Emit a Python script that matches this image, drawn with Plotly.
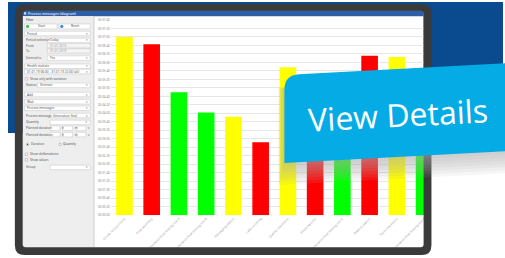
import plotly.graph_objects as go

W, H = 505, 258

# ---------------- chart data ----------------
categories = [
    "Goods receipt check",
    "Final assembly",
    "Generation final testing line A",
    "Generation final testing line B",
    "Packaging station",
    "Label printing",
    "Quality inspection",
    "Shipping prep",
    "Generation final testing line C",
    "Rework station",
    "Paint inspection",
    "Generation final testing line D",
]
durations_s = [420, 403, 290, 242, 232, 172, 349, 300, 250, 376, 373, 270]
status = ["warning", "critical", "ok", "ok", "warning", "critical",
          "warning", "critical", "ok", "critical", "warning", "ok"]
y_tickvals = [0, 20, 40, 60, 80, 100, 120, 140, 160, 180, 200, 220,
              240, 260, 280, 300, 320, 340, 360, 380, 400, 420, 440, 460]
y_ticktext = ["00:00:00", "00:00:20", "00:00:40", "00:01:00", "00:01:20", "00:01:40",
              "00:02:00", "00:02:20", "00:02:40", "00:03:00", "00:03:20", "00:03:40",
              "00:04:00", "00:04:20", "00:04:40", "00:05:00", "00:05:20", "00:05:40",
              "00:06:00", "00:06:20", "00:06:40", "00:07:00", "00:07:20", "00:07:40"]

status_colors = {"ok": "#00ff00", "warning": "#ffff00", "critical": "#ff0000"}

shapes = []
annotations = []
FONT = "Noto Sans"


def fx(x):
    return x / W


def fy(y):
    return 1 - y / H


def rect(x0, y0, x1, y1, fill, line=None, lw=0, layer="below"):
    shapes.append(dict(type="rect", xref="paper", yref="paper",
                       x0=fx(x0), x1=fx(x1), y0=fy(y1), y1=fy(y0),
                       fillcolor=fill, line=dict(color=line or fill, width=lw),
                       layer=layer))


def circle(cx, cy, r, fill, line=None, lw=0, layer="below"):
    shapes.append(dict(type="circle", xref="paper", yref="paper",
                       x0=fx(cx - r), x1=fx(cx + r), y0=fy(cy + r), y1=fy(cy - r),
                       fillcolor=fill, line=dict(color=line or fill, width=lw),
                       layer=layer))


def path(cmds, fill, layer="below", line=None, lw=0):
    out = []
    for c in cmds:
        if c[0] == "Z":
            out.append("Z")
        else:
            vals = c[1:]
            pts = []
            for i in range(0, len(vals), 2):
                pts.append(f"{fx(vals[i]):.5f},{fy(vals[i + 1]):.5f}")
            out.append(c[0] + " " + " ".join(pts))
    shapes.append(dict(type="path", xref="paper", yref="paper", path=" ".join(out),
                       fillcolor=fill, line=dict(color=line or fill, width=lw),
                       layer=layer))


def txt(x, y, s, size=3.2, color="#555555", anchor="left", angle=0, family=FONT):
    annotations.append(dict(xref="paper", yref="paper", x=fx(x), y=fy(y), text=s,
                            showarrow=False, xanchor=anchor, yanchor="middle",
                            textangle=angle, borderpad=0,
                            font=dict(size=size, color=color, family=family)))


# ---------------- background ----------------
rect(0, 0, W, 133, "#0a4a8e")

# screen
rect(15, 9, 424, 249, "#ffffff")
# title bar
rect(15, 9, 424, 14.5, "#2f5ea8")
rect(16.5, 10.3, 18.5, 12.8, "#dfe8f5")
txt(19.5, 11.7, "Process messages (diagram)", size=3.6, color="#ffffff")
# left panel
rect(15, 14.5, 87, 249, "#eeeeee")
rect(87, 14.5, 88.2, 249, "#cfcfcf")

BORDER = "#c4c4c4"


def box(x0, x1, y, fill="#ffffff", h=4.6):
    rect(x0, y - h / 2, x1, y + h / 2, fill, BORDER, 0.5)


def dropdown(x0, x1, y, value):
    box(x0, x1, y)
    txt(x0 + 1.5, y, value)
    txt(x1 - 1.2, y, "▾", size=3.2, color="#777777", anchor="right")


def checkbox(x, y, label):
    rect(x, y - 1.3, x + 2.6, y + 1.3, "#ffffff", "#9a9a9a", 0.5)
    txt(x + 3.5, y, label)


txt(17, 18, "Filter", color="#333333")
box(17, 50, 24.8, h=5)
circle(19.9, 24.8, 1.6, "#3cc83c")
txt(35, 24.8, "Start", anchor="center")
box(52, 84, 24.8, h=5)
circle(54.9, 24.8, 1.6, "#3c8ce6")
txt(69, 24.8, "Reset", anchor="center")

dropdown(17, 84, 32, "Period")
txt(17, 39, "Period selection")
dropdown(40, 84, 39, "Today")
txt(17, 44.3, "From")
box(40, 84, 44.3, fill="#f4f4f4")
txt(41.5, 44.3, "01.01.2019", color="#999999")
txt(17, 49.7, "To")
box(40, 84, 49.7, fill="#f4f4f4")
txt(41.5, 49.7, "31.01.2019", color="#999999")
txt(17, 57, "Interval to")
dropdown(40, 84, 57, "Yes")
dropdown(17, 84, 65.3, "Health statistic")
dropdown(17, 84, 70.7, "01.01.19 06:00 - 31.01.19 22:00 (all)")
checkbox(17.5, 78, "Show only with variation")
txt(17, 84.7, "Station")
dropdown(30, 84, 84.7, "Stresses")
dropdown(17, 84, 94, "Add")
dropdown(17, 84, 101.3, "Wait")
dropdown(17, 84, 108, "Process messages")
txt(17, 115.3, "Process message")
dropdown(43, 84, 115.3, "Generation final")
txt(17, 122.3, "Quantity")
box(43, 84, 122.3)
txt(83, 122.3, "⇕", size=3, color="#777777", anchor="right")
for yy, lab in [(128.3, "Planned duration"), (134.7, "Planned deviation")]:
    txt(17, yy, lab)
    box(43, 53, yy)
    txt(54, yy, "h", size=2.8)
    box(56, 66, yy)
    txt(67, yy, "m", size=2.8)
    box(69.5, 79.5, yy)
    txt(80.5, yy, "s", size=2.8)
circle(20, 144.7, 1.3, "#ffffff", "#8a8a8a", 0.5)
circle(20, 144.7, 0.6, "#444444")
txt(22.5, 144.7, "Duration")
circle(53, 144.7, 1.3, "#ffffff", "#8a8a8a", 0.5)
txt(55.5, 144.7, "Quantity")
checkbox(17.5, 154.7, "Show deliberations")
checkbox(17.5, 160.3, "Show values")
txt(17, 168, "Group")
dropdown(43, 84, 168, "")

# ---------------- bar chart ----------------
fig = go.Figure()
fig.add_trace(go.Bar(
    x=categories, y=durations_s,
    marker=dict(color=[status_colors[s] for s in status], line=dict(width=0)),
    width=0.61, hoverinfo="skip",
))

# ---------------- overlay: tablet frame ----------------
r = 10
ri = 3
path([("M", 7 + r, 2), ("L", 432 - r, 2), ("Q", 432, 2, 432, 2 + r),
      ("L", 432, 257 - r), ("Q", 432, 257, 432 - r, 257),
      ("L", 7 + r, 257), ("Q", 7, 257, 7, 257 - r),
      ("L", 7, 2 + r), ("Q", 7, 2, 7 + r, 2), ("Z",),
      ("M", 15, 9 + ri), ("L", 15, 249 - ri), ("Q", 15, 249, 15 + ri, 249),
      ("L", 424 - ri, 249), ("Q", 424, 249, 424, 249 - ri),
      ("L", 424, 9 + ri), ("Q", 424, 9, 424 - ri, 9),
      ("L", 15 + ri, 9), ("Q", 15, 9, 15, 9 + ri), ("Z",)],
     "#3a3a3a", layer="above")

# ---------------- "View Details" button with soft shadow ----------------
slope = -0.0525


def yb(x):
    return 163.5 + slope * (x - 282)


def yt(x):
    return 73.3 + slope * (x - 297)


for k in range(1, 8):
    path([("M", 282 - 0.9 * k, 88), ("L", 282 - 0.9 * k, yb(282) + 3.2 * k),
          ("L", 520, yb(520) + 3.2 * k), ("L", 520, 70), ("L", 300, 80), ("Z",)],
         "rgba(175,175,175,0.11)", layer="above")

path([("M", 282, yb(282)), ("L", 282, 89),
      ("Q", 282, yt(282), 297, yt(297)),
      ("L", 520, yt(520)), ("L", 520, yb(520)), ("Z",)],
     "#05abe5", layer="above")

annotations.append(dict(xref="paper", yref="paper", x=fx(397.5), y=fy(114),
                        text="View Details", showarrow=False, textangle=-3,
                        xanchor="center", yanchor="middle",
                        font=dict(size=32, color="#ffffff", family="Open Sans")))

fig.update_layout(
    width=W, height=H,
    margin=dict(l=0, r=0, t=0, b=0),
    paper_bgcolor="#ffffff",
    plot_bgcolor="rgba(0,0,0,0)",
    showlegend=False,
    bargap=0.39,
    shapes=shapes,
    annotations=annotations,
    font=dict(family=FONT),
    xaxis=dict(
        domain=[fx(104.9), fx(424.5)],
        range=[-0.5, 11.0],
        tickangle=-45,
        tickfont=dict(size=3.2, color="#a0a0a0"),
        showgrid=False, showline=False, zeroline=False, ticks="",
        fixedrange=True,
    ),
    yaxis=dict(
        domain=[fy(216.7), fy(18.3)],
        range=[0, 460],
        tickvals=y_tickvals,
        ticktext=y_ticktext,
        tickfont=dict(size=3, color="#8a8a8a"),
        gridcolor="#e6e6e6", gridwidth=1,
        showline=False, zeroline=False, ticks="",
        fixedrange=True,
    ),
)

fig.write_html(
    "out.html",
    config={"displayModeBar": False},
    post_script="document.body.style.margin='0';document.body.style.overflow='hidden';",
)
